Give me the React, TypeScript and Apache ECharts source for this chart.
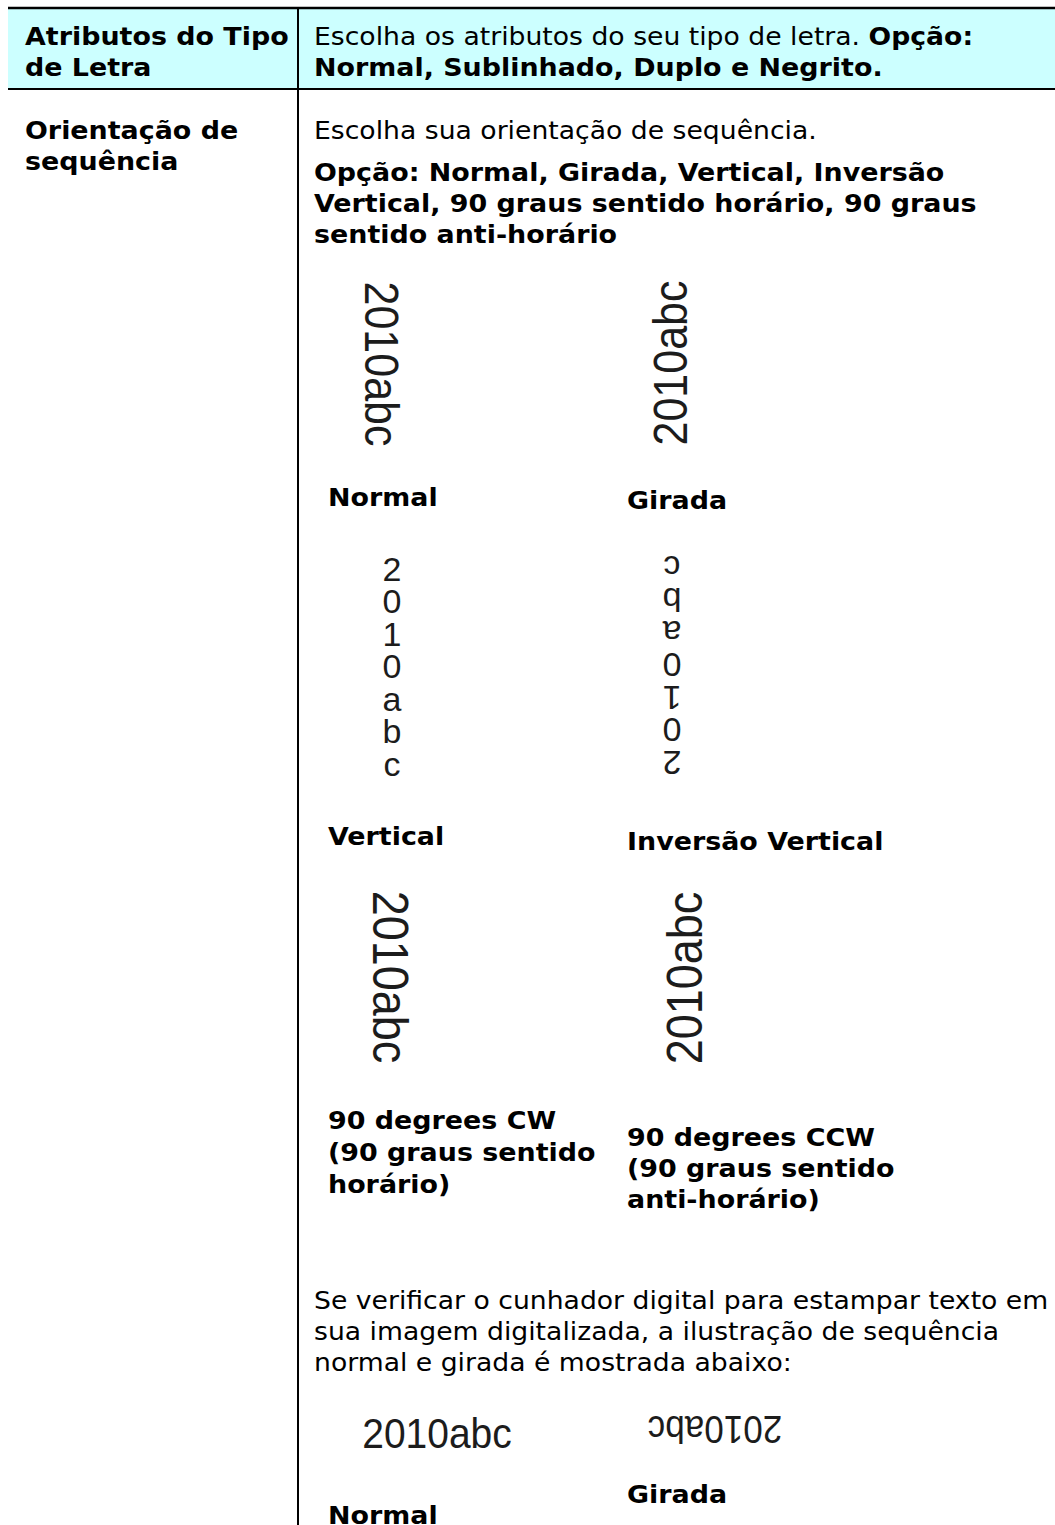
import React, { useEffect, useRef } from 'react';
import * as echarts from 'echarts';

const W = 1055;
const H = 1525;

const headerLeft = ['Atributos do Tipo', 'de Letra'];
const headerRightLine1 = ['Escolha os atributos do seu tipo de letra. ', 'Opção:'];
const headerRightLine2 = 'Normal, Sublinhado, Duplo e Negrito.';
const rowLeft = ['Orientação de', 'sequência'];
const rowIntro = 'Escolha sua orientação de sequência.';
const optionLines = [
  'Opção: Normal, Girada, Vertical, Inversão',
  'Vertical, 90 graus sentido horário, 90 graus',
  'sentido anti-horário',
];
const sample = '2010abc';
const captionsRow1 = ['Normal', 'Girada'];
const captionsRow2 = ['Vertical', 'Inversão Vertical'];
const captionCW = ['90 degrees CW', '(90 graus sentido', 'horário)'];
const captionCCW = ['90 degrees CCW', '(90 graus sentido', 'anti-horário)'];
const paragraph = [
  'Se verificar o cunhador digital para estampar texto em',
  'sua imagem digitalizada, a ilustração de sequência',
  'normal e girada é mostrada abaixo:',
];
const captionsStamp = ['Normal', 'Girada'];

const FS = 25.5;
const LH = 31;
const BOLD = `bold ${FS}px "DejaVu Sans"`;
const REG = `${FS}px "DejaVu Sans"`;
const SX_BOLD = 1.055;
const SX_REG = 1.045;
const INK = '#000';
const IMG_INK = '#1c1c1c';
const imgFont = (s: number) => `${s}px "Liberation Sans"`;

function txt(text: string, x: number, y: number, font: string, sx: number) {
  return {
    type: 'text',
    silent: true,
    x,
    y,
    scaleX: sx,
    style: {
      text,
      x: 0,
      y: 0,
      font,
      fill: INK,
      align: 'left',
      verticalAlign: 'middle',
    },
  };
}
const bold = (t: string, x: number, y: number) => txt(t, x, y, BOLD, SX_BOLD);
const reg = (t: string, x: number, y: number) => txt(t, x, y, REG, SX_REG);

function imgText(text: string, cx: number, cy: number, size: number, rotation: number, scaleY = 1.1, scaleX = 1) {
  return {
    type: 'text',
    silent: true,
    x: cx,
    y: cy,
    rotation,
    scaleX,
    scaleY,
    style: {
      text,
      x: 0,
      y: 0,
      font: imgFont(size),
      fill: IMG_INK,
      align: 'center',
      verticalAlign: 'middle',
    },
  };
}

function stack(cx: number, cy: number, pitch: number, size: number, inverted: boolean) {
  const chars = sample.split('');
  const n = chars.length;
  return chars.map((ch, i) => {
    const k = inverted ? n - 1 - i : i;
    return imgText(ch, cx, cy + (k - (n - 1) / 2) * pitch, size, inverted ? Math.PI : 0, 1, 1);
  });
}

export default function App() {
  const ref = useRef<HTMLDivElement>(null);
  useEffect(() => {
    if (!ref.current) return;
    const chart = echarts.init(ref.current, null, { renderer: 'svg', width: W, height: H });
    const leftX = 25;
    const rightX = 314;
    const elements: any[] = [
      { type: 'rect', silent: true, shape: { x: 8, y: 8, width: W - 8, height: 81 }, style: { fill: '#ccffff' } },
      { type: 'line', silent: true, shape: { x1: 8, y1: 8, x2: W, y2: 8 }, style: { stroke: '#000', lineWidth: 2.5 } },
      { type: 'line', silent: true, shape: { x1: 8, y1: 89, x2: W, y2: 89 }, style: { stroke: '#000', lineWidth: 2 } },
      { type: 'line', silent: true, shape: { x1: 298, y1: 8, x2: 298, y2: H }, style: { stroke: '#000', lineWidth: 2 } },
      ...headerLeft.map((t, i) => bold(t, leftX, 36 + i * LH)),
      {
        type: 'text',
        silent: true,
        x: rightX,
        y: 36,
        scaleX: SX_REG,
        style: {
          text: `{r|${headerRightLine1[0]}}{b|${headerRightLine1[1]}}`,
          x: 0,
          y: 0,
          align: 'left',
          verticalAlign: 'middle',
          rich: {
            r: { font: REG, fill: INK },
            b: { font: BOLD, fill: INK },
          },
        },
      },
      bold(headerRightLine2, rightX, 67),
      ...rowLeft.map((t, i) => bold(t, leftX, 130 + i * LH)),
      reg(rowIntro, rightX, 130),
      ...optionLines.map((t, i) => bold(t, rightX, 172 + i * LH)),
      imgText(sample, 381, 364, 43, -Math.PI / 2, 1.1),
      imgText(sample, 671, 363, 43, Math.PI / 2, 1.1),
      bold(captionsRow1[0], 328, 497),
      bold(captionsRow1[1], 627, 500),
      ...stack(392, 666, 32.5, 34, false),
      ...stack(672, 665, 32.5, 34, true),
      bold(captionsRow2[0], 328, 836),
      bold(captionsRow2[1], 627, 841),
      imgText(sample, 390, 977, 45, -Math.PI / 2, 1.1),
      imgText(sample, 685, 978, 45, Math.PI / 2, 1.1),
      ...captionCW.map((t, i) => bold(t, 328, 1120 + i * 32)),
      ...captionCCW.map((t, i) => bold(t, 627, 1137 + i * 31)),
      ...paragraph.map((t, i) => reg(t, rightX, 1300 + i * LH)),
      imgText(sample, 437, 1433, 39, 0, 1.1),
      imgText(sample, 715, 1429, 35, Math.PI, 1.1),
      bold(captionsStamp[0], 328, 1515),
      bold(captionsStamp[1], 627, 1494),
    ];
    chart.setOption({
      animation: false,
      backgroundColor: '#fff',
      graphic: { elements },
    });
    return () => chart.dispose();
  }, []);
  return (
    <div
      ref={ref}
      style={{ position: 'absolute', left: 0, top: 0, width: W, height: H, background: '#fff' }}
    />
  );
}
